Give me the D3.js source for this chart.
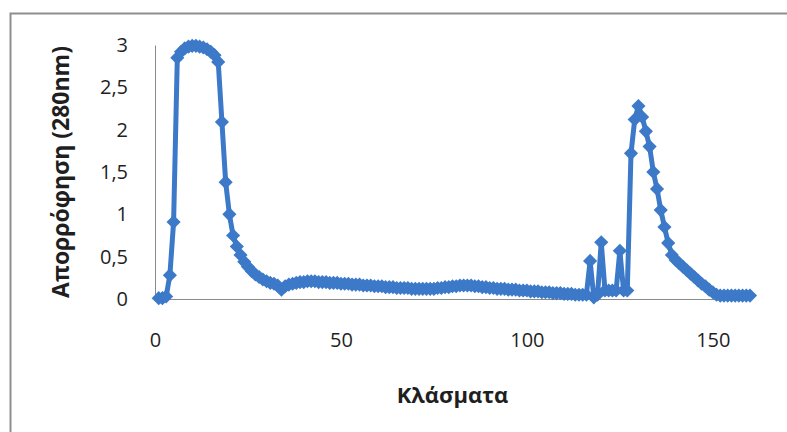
<!DOCTYPE html>
<html>
<head>
<meta charset="utf-8">
<script src="https://d3js.org/d3.v7.min.js"></script>
<style>
  body { margin: 0; background: #fff; }
  text { font-family: "Open Sans", sans-serif; fill: #1f1f1f; }
</style>
</head>
<body>
<script>
// fraction number and absorbance
var fractions = d3.range(1, 161);
var absorbance = [
  0.01, 0.01, 0.03, 0.28, 0.91, 2.85, 2.92, 2.96, 2.98, 2.99,
  2.99, 2.98, 2.97, 2.95, 2.92, 2.88, 2.80, 2.09, 1.38, 1.00,
  0.75, 0.62, 0.52, 0.44, 0.38, 0.33, 0.29, 0.26, 0.23, 0.21,
  0.19, 0.18, 0.16, 0.11, 0.15, 0.17, 0.18, 0.19, 0.20, 0.20,
  0.21, 0.21, 0.21, 0.20, 0.20, 0.20, 0.19, 0.19, 0.19, 0.18,
  0.18, 0.18, 0.17, 0.17, 0.17, 0.16, 0.16, 0.16, 0.15, 0.15,
  0.15, 0.14, 0.14, 0.14, 0.13, 0.13, 0.13, 0.13, 0.12, 0.12,
  0.12, 0.12, 0.12, 0.12, 0.12, 0.13, 0.13, 0.14, 0.14, 0.15,
  0.15, 0.16, 0.16, 0.16, 0.16, 0.15, 0.15, 0.14, 0.14, 0.13,
  0.13, 0.12, 0.12, 0.12, 0.11, 0.11, 0.11, 0.10, 0.10, 0.10,
  0.09, 0.09, 0.09, 0.08, 0.08, 0.08, 0.07, 0.07, 0.07, 0.06,
  0.06, 0.06, 0.05, 0.05, 0.05, 0.05, 0.45, 0.02, 0.05, 0.67,
  0.10, 0.10, 0.10, 0.10, 0.57, 0.10, 0.10, 1.72, 2.12, 2.28,
  2.15, 1.98, 1.80, 1.50, 1.30, 1.05, 0.85, 0.66, 0.52, 0.46,
  0.42, 0.38, 0.34, 0.30, 0.26, 0.22, 0.18, 0.15, 0.11, 0.08,
  0.05, 0.04, 0.04, 0.04, 0.04, 0.04, 0.04, 0.04, 0.04, 0.04
];
var xTicks = [0, 50, 100, 150];
var yTicks = [0, 0.5, 1, 1.5, 2, 2.5, 3];

var data = fractions.map(function(f, i) { return {x: f, y: absorbance[i]}; });

var W = 787, H = 432;
var margin = {top: 45, right: 37, bottom: 133, left: 155},
    width = W - margin.left - margin.right,
    height = H - margin.top - margin.bottom;

var x = d3.scaleLinear().domain([0, 160]).range([0, width]);
var y = d3.scaleLinear().domain([0, 3]).range([height, 0]);

var color = "#3c79c8";

var svg = d3.select("body").append("svg")
    .attr("width", W)
    .attr("height", H);

// outer chart border (only top and left visible)
svg.append("path")
    .attr("d", "M10.5," + H + "V13.5H" + W)
    .attr("fill", "none")
    .attr("stroke", "#8e8e8e")
    .attr("stroke-width", 2);

var g = svg.append("g")
    .attr("transform", "translate(" + margin.left + "," + margin.top + ")");

// x axis
var xAxis = g.append("g")
    .attr("transform", "translate(0," + height + ")")
    .call(d3.axisBottom(x).tickValues(xTicks).tickSize(0).tickPadding(34));

// y axis
var yAxis = g.append("g")
    .call(d3.axisLeft(y).tickValues(yTicks).tickSize(0).tickPadding(27)
      .tickFormat(function(d) { return String(d).replace(".", ","); }));

[xAxis, yAxis].forEach(function(a) {
  a.select(".domain").attr("stroke", "#8a8a8a").attr("stroke-width", 1);
  a.selectAll("text")
    .style("font-family", "'Open Sans', sans-serif")
    .style("font-size", "20px")
    .attr("fill", "#1f1f1f");
});

// series line
var line = d3.line()
    .x(function(d) { return x(d.x); })
    .y(function(d) { return y(d.y); });

g.append("path")
    .datum(data)
    .attr("fill", "none")
    .attr("stroke", color)
    .attr("stroke-width", 5)
    .attr("stroke-linejoin", "round")
    .attr("d", line);

// diamond markers
var diamond = d3.symbol().type(d3.symbolSquare).size(100);
g.selectAll(".pt")
    .data(data)
  .enter().append("path")
    .attr("class", "pt")
    .attr("d", diamond)
    .attr("fill", color)
    .attr("transform", function(d) {
      return "translate(" + x(d.x) + "," + y(d.y) + ") rotate(45)";
    });

// axis titles
svg.append("text")
    .attr("x", margin.left + width / 2)
    .attr("y", 403)
    .attr("text-anchor", "middle")
    .style("font-size", "22px")
    .style("font-weight", "bold")
    .text("Κλάσματα");

svg.append("text")
    .attr("transform", "translate(69," + 172 + ") rotate(-90)")
    .attr("text-anchor", "middle")
    .style("font-size", "23px")
    .style("font-weight", "bold")
    .text("Απορρόφηση (280nm)");
</script>
</body>
</html>
